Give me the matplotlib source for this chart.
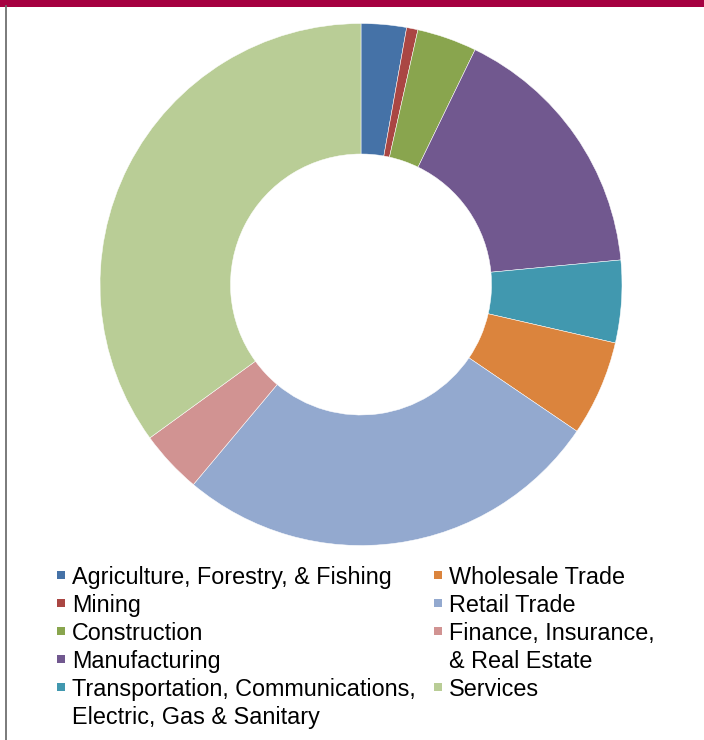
import matplotlib.pyplot as plt
from matplotlib.patches import Rectangle
from matplotlib.lines import Line2D

plt.rcParams['font.family'] = ['Liberation Sans', 'DejaVu Sans']

# share of establishments by industry (%)
industries = [
    'Agriculture, Forestry, & Fishing',
    'Mining',
    'Construction',
    'Manufacturing',
    'Transportation, Communications,\nElectric, Gas & Sanitary',
    'Wholesale Trade',
    'Retail Trade',
    'Finance, Insurance,\n& Real Estate',
    'Services',
]
shares = [2.8, 0.7, 3.7, 16.3, 5.1, 5.9, 26.6, 3.9, 35.0]
colors = ['#4572A7', '#AA4643', '#89A54E', '#71588F', '#4198AF',
          '#DB843D', '#93A9CF', '#D19392', '#B9CD96']

W, H = 704, 740
fig = plt.figure(figsize=(W / 100, H / 100), dpi=100)

# donut
cx, cy, r = 361, 284.5, 261
ax = fig.add_axes([(cx - r) / W, (H - cy - r) / H, 2 * r / W, 2 * r / H])
ax.pie(shares, colors=colors, startangle=90, counterclock=False, radius=1,
       wedgeprops=dict(width=0.5, edgecolor='white', linewidth=0.35))
ax.set_xlim(-1, 1)
ax.set_ylim(-1, 1)
ax.set_aspect('equal')
ax.axis('off')

# frame: maroon band on top, grey rule on the left
fig.patches.append(Rectangle((0, 1 - 6.5 / H), 1, 6.5 / H, transform=fig.transFigure,
                             facecolor='#A50040', edgecolor='none'))
fig.lines.append(Line2D([5.5 / W, 5.5 / W], [0, 1 - 6 / H], transform=fig.transFigure,
                        color='#6F6F6F', linewidth=1.3))

# legend, two columns filled top-down
row_h = 28
top = 575
cols = [(61, industries[:5], colors[:5]), (438, industries[5:], colors[5:])]
for mx, labels, cols_c in cols:
    row = 0
    for lab, c in zip(labels, cols_c):
        y = top + row * row_h
        fig.patches.append(Rectangle(((mx - 4) / W, 1 - (y + 4) / H), 8 / W, 8 / H,
                                     transform=fig.transFigure, facecolor=c, edgecolor='none'))
        for k, line in enumerate(lab.split('\n')):
            fig.text((mx + 11) / W, 1 - (y + k * row_h) / H, line, fontsize=16.8,
                     ha='left', va='center_baseline', color='black')
        row += len(lab.split('\n'))

fig.savefig('out.png', dpi=100)
